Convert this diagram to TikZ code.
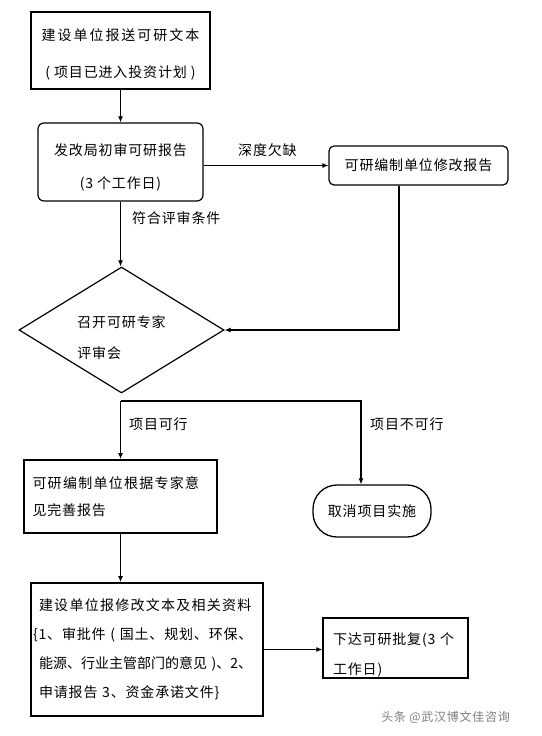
\documentclass[tikz,border=0pt]{standalone}
\usepackage{fontspec}
\setmainfont{Noto Sans CJK SC}[LetterSpace=6]
\usetikzlibrary{arrows.meta,shapes.geometric}
\begin{document}
\begin{tikzpicture}[x=1pt,y=-1pt,
  every node/.style={font=\fontsize{14}{30}\selectfont},
  ln/.style={line width=1.1pt},
  arr/.style={ln,-{Latex[length=6pt,width=5pt]}},
  thickbox/.style={draw,line width=2pt,inner sep=0pt},
  rbox/.style={draw,line width=1.2pt,rounded corners=6pt,inner sep=0pt},
  thinbox/.style={draw,line width=1.3pt,inner sep=0pt},
  lbl/.style={inner sep=0pt,anchor=west},
  intext/.style={inner sep=0pt},
]
\useasboundingbox[fill=white] (0,0) rectangle (541,736);

\node[thickbox,minimum width=179,minimum height=77,
  label={[intext,align=center,yshift=-3.5pt,font=\fontsize{14}{37}\selectfont]center:{\addfontfeature{LetterSpace=14}建设单位报送可研文本}\\( 项目已进入投资计划 )}]
  (b1) at (120.5,50.5) {};

\node[rbox,minimum width=165,minimum height=78,
  label={[intext,align=center,yshift=-5.5pt,font=\fontsize{14}{33}\selectfont]center:发改局初审可研报告\\(3 个工作日)}]
  (b2) at (120.5,162) {};

\node[rbox,rounded corners=5pt,minimum width=179,minimum height=39] (b3) at (418.5,165.5)
  {可研编制单位修改报告};

\node[draw,line width=1.2pt,shape=diamond,inner sep=0pt,minimum width=205,minimum height=126,
  label={[intext,align=left,yshift=-7.5pt,font=\fontsize{14}{31}\selectfont]center:召开可研专家\\评审会}]
  (dia) at (121.5,330) {};

\node[thickbox,minimum width=193,minimum height=73,text width=176,align=left,
  font=\fontsize{14}{27}\selectfont] (b4) at (120.5,496.5)
  {{\addfontfeature{LetterSpace=9}可研编制单位根据专家意}\\见完善报告};

\node[draw,line width=1.3pt,rounded corners=24pt,minimum width=118,minimum height=52,inner sep=0pt] (term) at (372,511)
  {取消项目实施};

\node[thickbox,minimum width=232,minimum height=133,text width=216,align=left,
  font=\fontsize{14}{29}\selectfont] (b5) at (147,649.5)
  {{\addfontfeature{LetterSpace=9}建设单位报修改文本及相关资料}\\\hspace*{-6pt}\{1、审批件~(~国土、规划、环保、\\{\addfontfeature{LetterSpace=0}能源、行业主管部门的意见~)、2、}\\申请报告 3、资金承诺文件\}};

\node[thinbox,minimum width=145,minimum height=60,
  label={[intext,text width=125,align=left,yshift=-7pt,font=\fontsize{14}{30}\selectfont]center:下达可研批复(3~个\\工作日)}]
  (b6) at (395.5,648) {};

% connectors
\draw[arr] (b1.south) -- (b2.north);
\draw[arr] (b2.east |- b3.west) -- (b3.west);
\node[lbl] (l1) at (238,150) {深度欠缺};
\draw[arr] (b2.south) -- (b2.south |- dia.north);
\node[lbl] (l2) at (132,218) {符合评审条件};
\draw[arr] ([xshift=-19.5pt]b3.south) |- (dia.east);
\coordinate (sp) at (120.5,401);
\draw[arr] (sp) -- (b4.north);
\draw[arr] (sp) -| ([xshift=-11pt]term.north);
\node[lbl] (l3) at (129,424) {项目可行};
\node[lbl] (l4) at (370,424) {项目不可行};
\draw[arr] (b4.south) -- (b4.south |- b5.north);
\draw[arr] (b5.east) -- (b5.east -| b6.west);

\node[inner sep=0pt,anchor=east,text=gray,font=\fontsize{12}{14}\selectfont] (wm) at (510,717)
  {头条 @武汉博文佳咨询};
\end{tikzpicture}
\end{document}
